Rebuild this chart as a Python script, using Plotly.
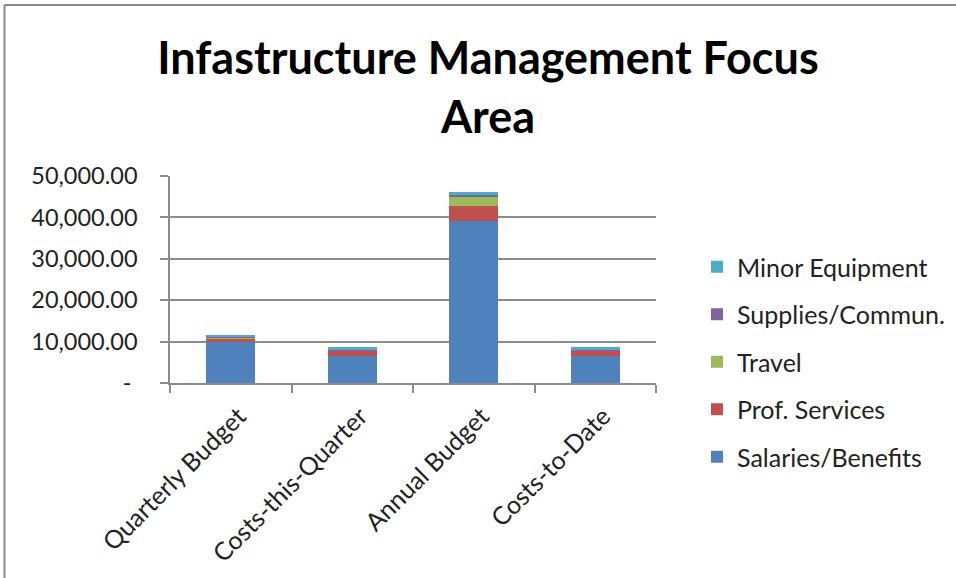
import plotly.graph_objects as go

categories = ["Quarterly Budget", "Costs-this-Quarter", "Annual Budget", "Costs-to-Date"]
salaries = [9950, 6520, 39060, 6520]
prof_services = [560, 1130, 3620, 1130]
travel = [560, 0, 2250, 0]
supplies = [240, 560, 560, 560]
minor_equipment = [400, 410, 580, 410]

series_names = ["Salaries/Benefits", "Prof. Services", "Travel", "Supplies/Commun.", "Minor Equipment"]
series_values = [salaries, prof_services, travel, supplies, minor_equipment]
series_colors = ["#4F81BD", "#C0504D", "#9BBB59", "#8064A2", "#4BACC6"]

y_tickvals = [0, 10000, 20000, 30000, 40000, 50000]
y_ticktext = ["-\u00a0", "10,000.00", "20,000.00", "30,000.00", "40,000.00", "50,000.00"]

W, H = 956, 578
FONT = "Lato"
GRID = "#8c8c8c"

fig = go.Figure()
n = len(series_names)
for i, (name, vals, col) in enumerate(zip(series_names, series_values, series_colors)):
    fig.add_trace(go.Bar(
        x=categories, y=vals, name=name, legendgroup=name,
        legendrank=1000 - i,
        marker=dict(color=col, line=dict(width=0)),
    ))

fig.update_layout(
    width=W, height=H,
    margin=dict(l=0, r=0, t=0, b=0, autoexpand=False),
    paper_bgcolor="white", plot_bgcolor="white",
    barmode="stack", bargap=0.6,
    font=dict(family=FONT, color="#222222", size=24),
    title=dict(
        text="<b>Infastructure Management Focus<br>Area</b>",
        font=dict(family=FONT, size=45, color="#000000"),
        x=488 / W, xanchor="center", xref="paper",
        y=1 - 74 / H, yanchor="middle", yref="container",
        automargin=False,
    ),
    showlegend=True,
    legend=dict(
        traceorder="grouped", tracegroupgap=12,
        x=697 / W, xanchor="left", y=1 - 244 / H, yanchor="top",
        font=dict(family=FONT, size=25, color="#222222"),
        bgcolor="rgba(0,0,0,0)",
    ),
    xaxis=dict(
        domain=[170 / W, 656 / W], automargin=False,
        showline=True, linecolor=GRID, linewidth=1.5,
        ticks="outside", ticklen=8, tickcolor=GRID, tickwidth=1.5,
        tickson="boundaries", tickangle=-45, showgrid=False,
        ticklabelstandoff=7, ticklabelshift=8,
        tickfont=dict(family=FONT, size=25, color="#222222"),
    ),
    yaxis=dict(
        domain=[1 - 383 / H, 1 - 176 / H], automargin=False,
        range=[0, 50000],
        tickvals=y_tickvals, ticktext=y_ticktext,
        showline=True, linecolor=GRID, linewidth=1.5,
        ticks="outside", ticklen=8, tickcolor=GRID, tickwidth=1.5,
        showgrid=True, gridcolor=GRID, gridwidth=1.5,
        zeroline=False,
        ticklabelstandoff=18,
        tickfont=dict(family=FONT, size=23.5, color="#222222"),
    ),
    shapes=[
        dict(type="line", xref="paper", yref="paper", x0=4.5 / W, x1=1, y0=1 - 5 / H, y1=1 - 5 / H,
             line=dict(color="#8a8a8a", width=2)),
        dict(type="line", xref="paper", yref="paper", x0=4.5 / W, x1=4.5 / W, y0=0, y1=1 - 5 / H,
             line=dict(color="#8a8a8a", width=2)),
    ],
)

fig.write_html("out.html", config={"displayModeBar": False},
               post_script="document.body.style.margin='0';")
